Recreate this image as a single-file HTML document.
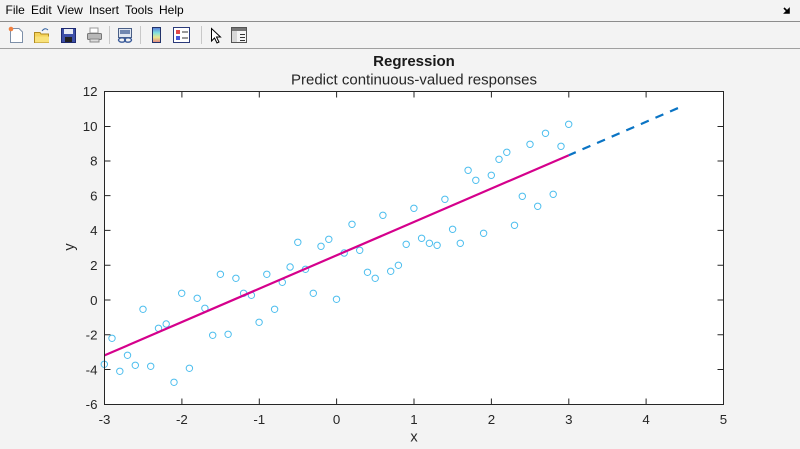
<!DOCTYPE html>
<html><head><meta charset="utf-8"><style>
html,body{margin:0;padding:0;background:#f3f3f3;}
svg{display:block;}
text{font-family:"Liberation Sans",Arial,sans-serif;}
</style></head><body>
<svg width="800" height="449" viewBox="0 0 800 449" xmlns="http://www.w3.org/2000/svg">
<rect x="0" y="0" width="800" height="449" fill="#f3f3f3"/>
<g font-size="12" fill="#000">
<text x="5.5" y="14">File</text>
<text x="31" y="14">Edit</text>
<text x="57" y="14">View</text>
<text x="89" y="14">Insert</text>
<text x="125" y="14">Tools</text>
<text x="159" y="14">Help</text>
</g>
<path d="M784 8 L788 12 M785 13 L789 13 L789 9 Z" stroke="#000" stroke-width="1.6" fill="#000"/>
<line x1="0" y1="21.5" x2="800" y2="21.5" stroke="#8c8c8c" stroke-width="1"/>
<line x1="0" y1="48.5" x2="800" y2="48.5" stroke="#a0a0a0" stroke-width="1"/>
<g>
<path d="M10.5 28.5 H19 L22.5 32 V42.5 H10.5 Z" fill="#fff" stroke="#7d8fa8"/>
<circle cx="11" cy="29" r="2.3" fill="#f08040"/>
<path d="M34.5 32.5 H40 L41 34 H48.5 V42.5 H34.5 Z" fill="#f5d35a" stroke="#b08a20"/>
<path d="M35 36.5 H49 V42.5 H35 Z" fill="#f9e27a"/>
<path d="M42 31 Q45 27 48 30" stroke="#3060a0" fill="none"/>
<rect x="61.5" y="28.5" width="14" height="14" fill="#3d4fa8" stroke="#1e2a70"/>
<rect x="64" y="29" width="9" height="5" fill="#e8ecf5"/>
<rect x="65" y="37" width="7" height="5" fill="#222"/>
<rect x="90" y="28" width="8" height="5" fill="#fff" stroke="#999"/>
<rect x="87.5" y="33.5" width="14" height="6" rx="1" fill="#b8b8b8" stroke="#777"/>
<rect x="90" y="39" width="9" height="3" fill="#ddd" stroke="#888"/>
<line x1="109.5" y1="26" x2="109.5" y2="44" stroke="#c8c8c8"/>
<line x1="140.5" y1="26" x2="140.5" y2="44" stroke="#c8c8c8"/>
<line x1="201.5" y1="26" x2="201.5" y2="44" stroke="#c8c8c8"/>
<rect x="118.5" y="28.5" width="13" height="9" fill="#dfe6f2" stroke="#4a5f86"/>
<rect x="120" y="30" width="10" height="4" fill="#6f86b0"/>
<ellipse cx="122" cy="40" rx="3.5" ry="2.2" fill="none" stroke="#3a5b9a" stroke-width="1.4"/>
<ellipse cx="128" cy="40" rx="3.5" ry="2.2" fill="none" stroke="#3a5b9a" stroke-width="1.4"/>
<defs><linearGradient id="cb" x1="0" y1="0" x2="0" y2="1">
<stop offset="0" stop-color="#5a78d8"/><stop offset="0.35" stop-color="#7ee0e0"/><stop offset="0.65" stop-color="#e8e890"/><stop offset="1" stop-color="#e08080"/></linearGradient></defs>
<rect x="152.5" y="27.5" width="8" height="15" fill="url(#cb)" stroke="#22336a"/>
<rect x="173.5" y="27.5" width="16" height="15" fill="#fff" stroke="#2a3a7a"/>
<rect x="176" y="30" width="4" height="4" fill="#e04848"/>
<rect x="176" y="36" width="4" height="4" fill="#4858d8"/>
<line x1="182" y1="32" x2="188" y2="32" stroke="#333"/>
<line x1="182" y1="38" x2="188" y2="38" stroke="#333"/>
<path d="M211.5 28.5 V41 L214.5 38 L217 43 L219 42 L216.5 37 L220.5 37 Z" fill="#fff" stroke="#000"/>
<rect x="231.5" y="27.5" width="15" height="15" fill="#f4f4f4" stroke="#555"/>
<rect x="232" y="28" width="14" height="3" fill="#777"/>
<rect x="232" y="31" width="5" height="11" fill="#d8d8d8"/>
<line x1="240" y1="34.5" x2="245" y2="34.5" stroke="#333"/>
<line x1="240" y1="37.5" x2="245" y2="37.5" stroke="#333"/>
<line x1="240" y1="40.5" x2="245" y2="40.5" stroke="#333"/>
</g>
<text x="414" y="65.8" text-anchor="middle" font-size="15" font-weight="bold" fill="#1a1a1a">Regression</text>
<text x="414" y="84.3" text-anchor="middle" font-size="15" fill="#262626">Predict continuous-valued responses</text>
<rect x="104.5" y="91.5" width="619" height="313" fill="#fff"/>
<g fill="none" stroke="#4dbeee" stroke-width="1">
<circle cx="104.3" cy="364.3" r="3.2"/>
<circle cx="112.0" cy="338.3" r="3.2"/>
<circle cx="119.8" cy="371.3" r="3.2"/>
<circle cx="127.5" cy="355.3" r="3.2"/>
<circle cx="135.3" cy="365.3" r="3.2"/>
<circle cx="143.0" cy="309.3" r="3.2"/>
<circle cx="150.7" cy="366.3" r="3.2"/>
<circle cx="158.5" cy="328.3" r="3.2"/>
<circle cx="166.2" cy="324.0" r="3.2"/>
<circle cx="174.0" cy="382.3" r="3.2"/>
<circle cx="181.7" cy="293.3" r="3.2"/>
<circle cx="189.4" cy="368.3" r="3.2"/>
<circle cx="197.2" cy="298.3" r="3.2"/>
<circle cx="204.9" cy="308.3" r="3.2"/>
<circle cx="212.7" cy="335.3" r="3.2"/>
<circle cx="220.4" cy="274.3" r="3.2"/>
<circle cx="228.1" cy="334.3" r="3.2"/>
<circle cx="235.9" cy="278.3" r="3.2"/>
<circle cx="243.6" cy="293.3" r="3.2"/>
<circle cx="251.4" cy="295.3" r="3.2"/>
<circle cx="259.1" cy="322.3" r="3.2"/>
<circle cx="266.8" cy="274.3" r="3.2"/>
<circle cx="274.6" cy="309.3" r="3.2"/>
<circle cx="282.3" cy="282.3" r="3.2"/>
<circle cx="290.1" cy="267.0" r="3.2"/>
<circle cx="297.8" cy="242.3" r="3.2"/>
<circle cx="305.5" cy="269.3" r="3.2"/>
<circle cx="313.3" cy="293.3" r="3.2"/>
<circle cx="321.0" cy="246.3" r="3.2"/>
<circle cx="328.8" cy="239.3" r="3.2"/>
<circle cx="336.5" cy="299.3" r="3.2"/>
<circle cx="344.2" cy="253.0" r="3.2"/>
<circle cx="352.0" cy="224.3" r="3.2"/>
<circle cx="359.7" cy="250.3" r="3.2"/>
<circle cx="367.5" cy="272.3" r="3.2"/>
<circle cx="375.2" cy="278.3" r="3.2"/>
<circle cx="382.9" cy="215.3" r="3.2"/>
<circle cx="390.7" cy="271.3" r="3.2"/>
<circle cx="398.4" cy="265.3" r="3.2"/>
<circle cx="406.2" cy="244.3" r="3.2"/>
<circle cx="413.9" cy="208.3" r="3.2"/>
<circle cx="421.6" cy="238.3" r="3.2"/>
<circle cx="429.4" cy="243.3" r="3.2"/>
<circle cx="437.1" cy="245.3" r="3.2"/>
<circle cx="444.9" cy="199.3" r="3.2"/>
<circle cx="452.6" cy="229.3" r="3.2"/>
<circle cx="460.3" cy="243.3" r="3.2"/>
<circle cx="468.1" cy="170.3" r="3.2"/>
<circle cx="475.8" cy="180.3" r="3.2"/>
<circle cx="483.6" cy="233.3" r="3.2"/>
<circle cx="491.3" cy="175.3" r="3.2"/>
<circle cx="499.0" cy="159.3" r="3.2"/>
<circle cx="506.8" cy="152.3" r="3.2"/>
<circle cx="514.5" cy="225.3" r="3.2"/>
<circle cx="522.3" cy="196.3" r="3.2"/>
<circle cx="530.0" cy="144.3" r="3.2"/>
<circle cx="537.7" cy="206.3" r="3.2"/>
<circle cx="545.5" cy="133.3" r="3.2"/>
<circle cx="553.2" cy="194.3" r="3.2"/>
<circle cx="561.0" cy="146.3" r="3.2"/>
<circle cx="568.7" cy="124.3" r="3.2"/>
</g>
<line x1="568.8" y1="155.2" x2="679.5" y2="107.4" stroke="#0a74c4" stroke-width="2.2" stroke-dasharray="8.6,7.3" stroke-dashoffset="1"/>
<line x1="104.5" y1="355.4" x2="568.8" y2="155.2" stroke="#d5008c" stroke-width="2.2"/>
<rect x="104.5" y="91.5" width="619" height="313" fill="none" stroke="#262626" stroke-width="1"/>
<g stroke="#262626" stroke-width="1">
<path d="M181.9 404.5 v-6 M259.3 404.5 v-6 M336.6 404.5 v-6 M414 404.5 v-6 M491.4 404.5 v-6 M568.8 404.5 v-6 M646.1 404.5 v-6 M181.9 91.5 v6 M259.3 91.5 v6 M336.6 91.5 v6 M414 91.5 v6 M491.4 91.5 v6 M568.8 91.5 v6 M646.1 91.5 v6"/>
<path d="M104.5 126.5 h6 M104.5 161 h6 M104.5 195.6 h6 M104.5 230.4 h6 M104.5 265.2 h6 M104.5 300 h6 M104.5 334.7 h6 M104.5 369.5 h6 M723.5 126.5 h-6 M723.5 161 h-6 M723.5 195.6 h-6 M723.5 230.4 h-6 M723.5 265.2 h-6 M723.5 300 h-6 M723.5 334.7 h-6 M723.5 369.5 h-6"/>
</g>
<g font-size="13.3" fill="#262626" text-anchor="end">
<text x="97.5" y="96.1">12</text>
<text x="97.5" y="130.9">10</text>
<text x="97.5" y="165.7">8</text>
<text x="97.5" y="200.4">6</text>
<text x="97.5" y="235.2">4</text>
<text x="97.5" y="270">2</text>
<text x="97.5" y="304.8">0</text>
<text x="97.5" y="339.5">-2</text>
<text x="97.5" y="374.3">-4</text>
<text x="97.5" y="409.1">-6</text>
</g>
<g font-size="13.3" fill="#262626" text-anchor="middle">
<text x="104.5" y="423.8">-3</text>
<text x="181.9" y="423.8">-2</text>
<text x="259.3" y="423.8">-1</text>
<text x="336.6" y="423.8">0</text>
<text x="414" y="423.8">1</text>
<text x="491.4" y="423.8">2</text>
<text x="568.8" y="423.8">3</text>
<text x="646.1" y="423.8">4</text>
<text x="723.5" y="423.8">5</text>
</g>
<text x="414" y="441.5" text-anchor="middle" font-size="14.6" fill="#262626">x</text>
<text transform="translate(74,247) rotate(-90)" text-anchor="middle" font-size="14.6" fill="#262626">y</text>
</svg>
</body></html>
